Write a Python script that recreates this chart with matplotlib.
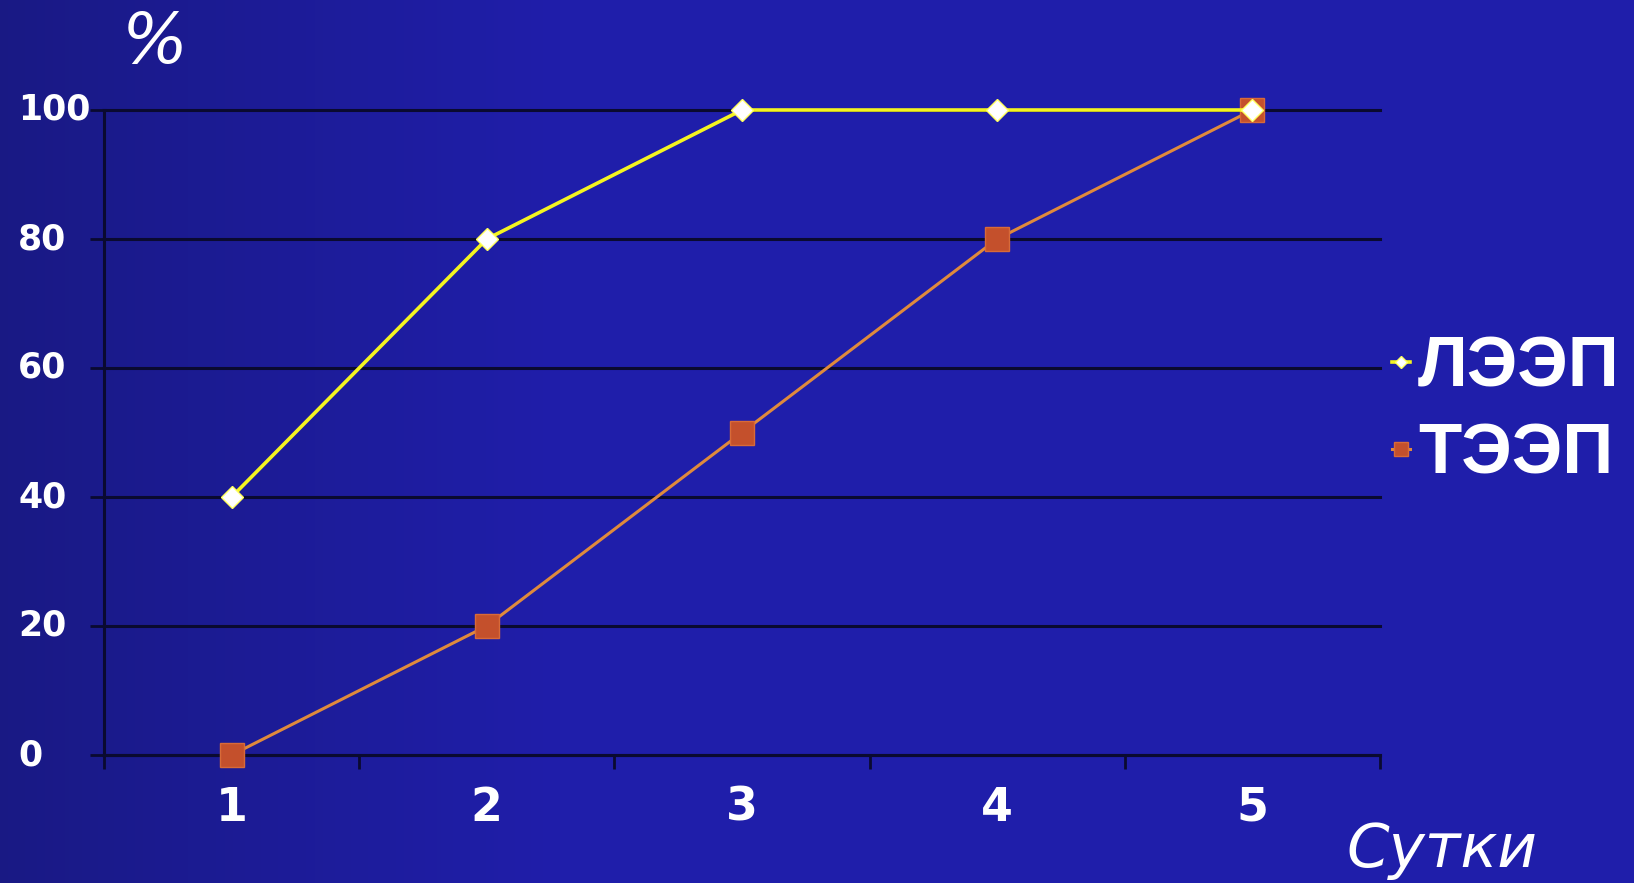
import numpy as np
import matplotlib.pyplot as plt
from matplotlib.transforms import blended_transform_factory

# Data
days = [1, 2, 3, 4, 5]
day_labels = ["1", "2", "3", "4", "5"]
leep = [40, 80, 100, 100, 100]
teep = [0, 20, 50, 80, 100]
y_ticks = [0, 20, 40, 60, 80, 100]

bg = "#2020a8"
fig = plt.figure(figsize=(16.34, 8.83), dpi=100)
fig.patch.set_facecolor(bg)

# darker left part of the slide background
bg_ax = fig.add_axes([0, 0, 1, 1], zorder=-10)
grad = np.linspace(0, 1, 400)
shade = np.clip(grad / 0.35, 0, 1)
img = np.zeros((1, 400, 3))
img[0, :, 0] = 0.10 + 0.025 * shade
img[0, :, 1] = 0.10 + 0.018 * shade
img[0, :, 2] = 0.52 + 0.15 * shade
bg_ax.imshow(img, aspect="auto", extent=[0, 1, 0, 1])
bg_ax.axis("off")

ax = fig.add_axes([104 / 1634, 1 - 755 / 883, (1380 - 104) / 1634, (755 - 110) / 883])
ax.set_facecolor("none")

ax.plot(days, teep, color="#e08a3c", lw=2.2, marker="s", markersize=17,
        markerfacecolor="#c4502c", markeredgecolor="#d86a38", label="ТЭЭП",
        zorder=3, clip_on=False)
ax.plot(days, leep, color="#f4f420", lw=2.6, marker="D", markersize=11,
        markerfacecolor="white", markeredgecolor="#ffff60", label="ЛЭЭП",
        zorder=4, clip_on=False)

ax.set_xlim(0.5, 5.5)
ax.set_ylim(0, 100)

for y in y_ticks:
    ax.axhline(y, color="#0a0a30", lw=2.2, zorder=1, clip_on=False)

ax.set_xticks(days)
ax.set_xticklabels(day_labels, color="white", fontsize=33, fontweight="bold")
ax.set_xticks(np.arange(0.5, 6.0, 1.0), minor=True)
ax.tick_params(axis="x", which="major", length=0, pad=22)
ax.tick_params(axis="x", which="minor", length=10, width=2, color="#0a0a30", direction="out")

ax.set_yticks(y_ticks)
ax.set_yticklabels([])
ax.tick_params(axis="y", which="major", length=10, width=2, color="#0a0a30", direction="out")
tr = blended_transform_factory(fig.transFigure, ax.transData)
for y in y_ticks:
    ax.text(18 / 1634, y, str(y), transform=tr, ha="left", va="center",
            color="white", fontsize=25, fontweight="bold")

for s in ["top", "right"]:
    ax.spines[s].set_visible(False)
for s in ["left", "bottom"]:
    ax.spines[s].set_color("#0a0a30")
    ax.spines[s].set_linewidth(2.2)

fig.text(155 / 1634, 1 - 44 / 883, "%", color="white", fontsize=50,
         ha="center", va="center", fontstyle="italic")
fig.text(1442 / 1634, 1 - 850 / 883, "Сутки", color="white", fontsize=44,
         ha="center", va="center", fontstyle="italic")

handles, labels = ax.get_legend_handles_labels()
leg = fig.legend(handles[::-1], labels[::-1], loc="center left",
                 bbox_to_anchor=(1392 / 1634, 1 - 412 / 883), frameon=False,
                 borderpad=0, borderaxespad=0, handlelength=0.25, handletextpad=0.12,
                 labelspacing=0.3, markerscale=0.6,
                 prop={"family": "Liberation Sans", "size": 51, "weight": "bold"})
for t in leg.get_texts():
    t.set_color("white")

plt.savefig("out.png", facecolor=fig.get_facecolor())
